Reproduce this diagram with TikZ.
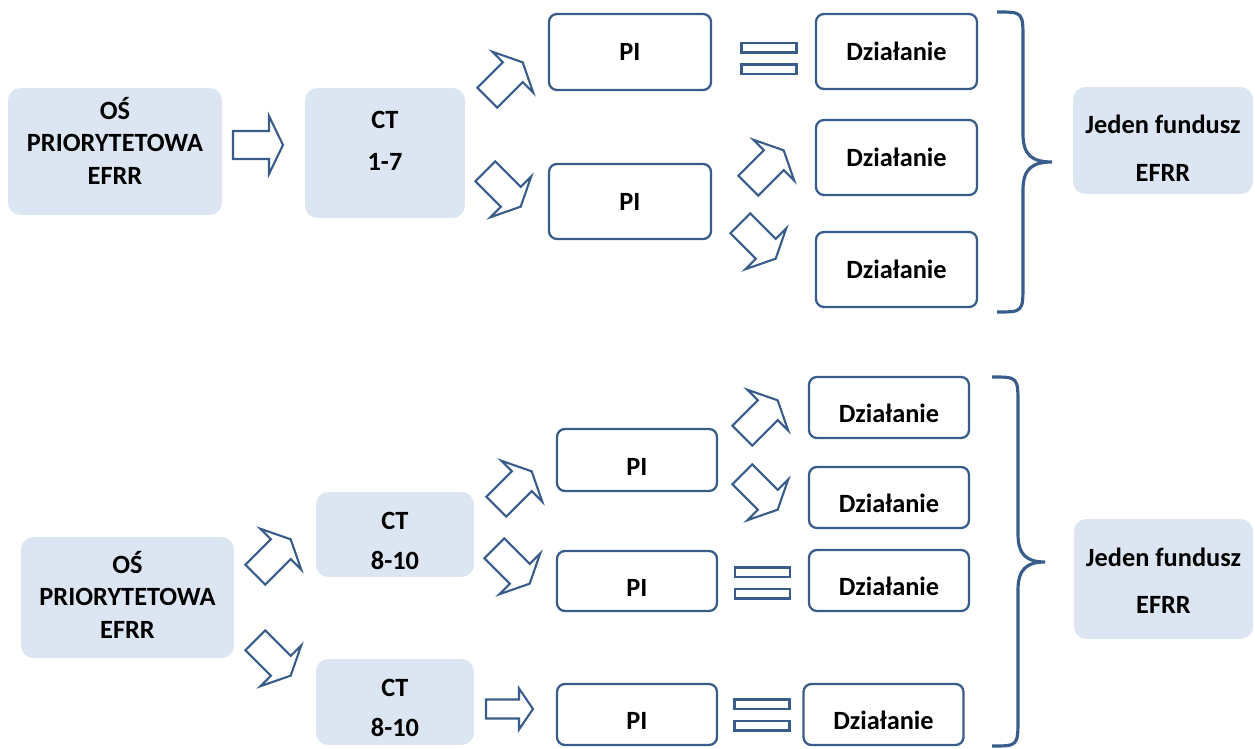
\documentclass[tikz,border=0pt]{standalone}
\usepackage{fontspec}
\setmainfont{Carlito}
\usetikzlibrary{calc,positioning}
\definecolor{boxline}{RGB}{56,93,138}
\definecolor{boxfill}{RGB}{220,230,242}

\begin{document}
\begin{tikzpicture}[
  x=0.02cm, y=-0.02cm,
  font=\fontsize{15}{18.5}\selectfont\bfseries,
  fbox/.style={fill=boxfill, rounded corners=7pt, inner sep=0pt, align=center},
  wbox/.style={draw=boxline, line width=1.3pt, rounded corners=4.5pt, inner sep=0pt},
  sp/.style={font=\fontsize{15}{#1}\selectfont\bfseries},
  shft/.style={text height=#1, text depth=0.05cm},
  lowtxt/.style={text height=0.67cm, text depth=0.05cm},
  brc/.style={draw=boxline, line width=1.8pt},
  fat/.pic={\draw[boxline, line width=1.2pt, fill=white]
    (-25,-14) -- (11,-14) -- (11,-29) -- (25,0) -- (11,29) -- (11,14) -- (-25,14) -- cycle;},
  thin/.pic={\draw[boxline, line width=1.2pt, fill=white]
    (-23.5,-9.5) -- (9.5,-9.5) -- (9.5,-20.5) -- (23.5,0) -- (9.5,20.5) -- (9.5,9.5) -- (-23.5,9.5) -- cycle;},
  eqsign/.pic={\draw[boxline, line width=1.2pt, fill=white]
    (-27.5,-15.5) rectangle (27.5,-6) (-27.5,6) rectangle (27.5,15.5);}]
\useasboundingbox (0,0) rectangle (1255,749);

% upper scheme
\node[fbox, minimum width=4.28cm, minimum height=2.54cm, shft=1.37cm] (os1) at (115,151.5) {OŚ\\PRIORYTETOWA\\EFRR};
\node[fbox, minimum width=3.2cm, minimum height=2.6cm, sp=23.9, shft=0.75cm] (ct1) at (385,153) {CT\\1-7};
\node[wbox, minimum width=3.24cm, minimum height=1.52cm] (pi1) at (630,52) {PI};
\node[wbox, minimum width=3.24cm, minimum height=1.5cm] (pi2) at (630,201.5) {PI};
\foreach \n/\y in {d1/51.5, d2/157.5, d3/269.5}
  \node[wbox, minimum width=3.22cm, minimum height=1.5cm] (\n) at (896.5,\y) {Działanie};
\node[fbox, minimum width=3.6cm, minimum height=2.14cm, sp=27.3, shft=1.69cm] (jf1) at (1163,140.5) {Jeden fundusz\\EFRR};

\pic at (258,145) {fat};
\pic[rotate=45] at (505,80) {fat};
\pic[rotate=-45] at (503,189) {fat};
\pic at (769,58.5) {eqsign};
\pic[rotate=45] at (766,168) {fat};
\pic[rotate=-45] at (758,241) {fat};
\draw[brc] (997,12) .. controls (1023,12) .. (1023,40) -- (1023,134)
  .. controls (1023,155) and (1032,162) .. (1052,162)
  .. controls (1032,162) and (1023,169) .. (1023,190) -- (1023,284)
  .. controls (1023,312) .. (997,312);

% lower scheme
\node[fbox, minimum width=4.26cm, minimum height=2.42cm, shft=1.69cm] (os2) at (127.5,597.5) {OŚ\\PRIORYTETOWA\\EFRR};
\node[fbox, minimum width=3.16cm, minimum height=1.7cm, sp=22.8, shft=1.45cm] (ct2) at (395,534.5) {CT\\8-10};
\node[fbox, minimum width=3.16cm, minimum height=1.72cm, sp=22.8, shft=1.45cm] (ct3) at (395,702) {CT\\8-10};
\foreach \n/\y/\h in {pi3/460/1.24, pi4/581/1.2, pi5/714.5/1.22}
  \node[wbox, lowtxt, minimum width=3.2cm, minimum height=\h cm] (\n) at (637,\y) {PI};
\foreach \n/\x/\y in {d4/889/407.5, d5/889/497.5, d6/889/580.5, d7/883.5/714.5}
  \node[wbox, lowtxt, minimum width=3.2cm, minimum height=1.22cm] (\n) at (\x,\y) {Działanie};
\node[fbox, minimum width=3.58cm, minimum height=2.4cm, sp=26.7, shft=1.43cm] (jf2) at (1163.5,579) {Jeden fundusz\\EFRR};

\pic[rotate=45] at (273,557) {fat};
\pic[rotate=-45] at (273,658) {fat};
\pic[rotate=45] at (514,489) {fat};
\pic[rotate=-45] at (512,566) {fat};
\pic at (509.5,709) {thin};
\pic[rotate=45] at (760,418) {fat};
\pic[rotate=-45] at (760,492) {fat};
\pic at (762.5,583) {eqsign};
\pic at (762,715) {eqsign};
\draw[brc] (992,377) .. controls (1018,377) .. (1018,405) -- (1018,534)
  .. controls (1018,555) and (1027,562) .. (1045,562)
  .. controls (1027,562) and (1018,569) .. (1018,590) -- (1018,718)
  .. controls (1018,746) .. (992,746);
\end{tikzpicture}
\end{document}
